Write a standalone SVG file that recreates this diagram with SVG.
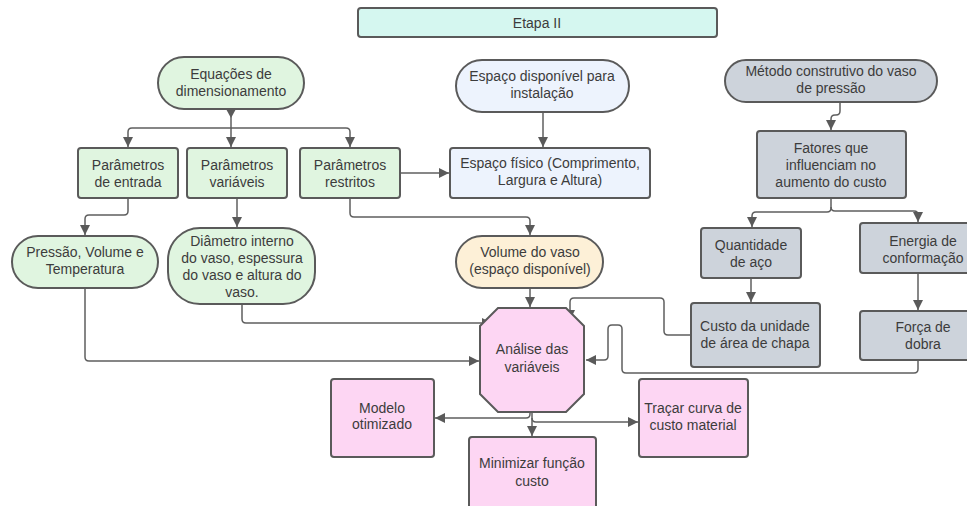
<svg xmlns="http://www.w3.org/2000/svg" width="967" height="506" viewBox="0 0 967 506">
<defs>
<marker id="ah" markerUnits="userSpaceOnUse" markerWidth="12" markerHeight="12" viewBox="0 0 12 12" refX="11" refY="6" orient="auto">
<path d="M1,1 L11,6 L1,11 Z" fill="#5a5a5a"/>
</marker>
<style>
.n{stroke:#5a5a5a;stroke-width:2}
.g{fill:#e0f5e0}.b{fill:#edf3fd}.gr{fill:#cdd3db}.o{fill:#fdf0d7}.p{fill:#fdd6f3}.m{fill:#d5f7f0}
text{font-family:"Liberation Sans",Arial,sans-serif;font-size:14px;fill:#3c3c3c;text-anchor:middle}
.c path{fill:none;stroke:#5f5f5f;stroke-width:1.5}
</style>
</defs>
<rect width="967" height="506" fill="#ffffff"/>

<g class="c" id="connectors">
<path d="M231,109 V128 H132 Q128,128 128,132 V147" marker-end="url(#ah)"/>
<path d="M231,128 V147" marker-end="url(#ah)"/>
<path d="M231,128 H346 Q350,128 350,132 V147" marker-end="url(#ah)"/>
<path d="M400,173 H449" marker-end="url(#ah)"/>
<path d="M543,112 V147" marker-end="url(#ah)"/>
<path d="M840,102 V111 Q840,115 836,115 H835 Q831,115 831,119 V130" marker-end="url(#ah)"/>
<path d="M831,198 V208 Q831,212 827,212 H756 Q752,212 752,216 V227" marker-end="url(#ah)"/>
<path d="M831,207 Q831,211 835,211 H914 Q918,211 918,215 V222" marker-end="url(#ah)"/>
<path d="M128,198 V211 Q128,215 124,215 H89 Q85,215 85,219 V235" marker-end="url(#ah)"/>
<path d="M237,198 V227" marker-end="url(#ah)"/>
<path d="M350,198 V213 Q350,217 354,217 H526 Q530,217 530,221 V235" marker-end="url(#ah)"/>
<path d="M530,288 V307" marker-end="url(#ah)"/>
<path d="M85,288 V357 Q85,361 89,361 H479" marker-end="url(#ah)"/>
<path d="M242,304 V319 Q242,323 246,323 H492" marker-end="url(#ah)"/>
<path d="M691,335 H668 Q664,335 664,331 V302 Q664,298 660,298 H574 Q570,298 570,302 V320" marker-end="url(#ah)"/>
<path d="M751,278 V302" marker-end="url(#ah)"/>
<path d="M918,273 V310" marker-end="url(#ah)"/>
<path d="M918,360 V369 Q918,373 914,373 H626 Q622,373 622,369 V329 Q622,325 618,325 H612 Q608,325 608,329 V356 Q608,360 604,360 H586" marker-end="url(#ah)"/>
<path d="M532,412 V436" marker-end="url(#ah)"/>
<path d="M530,412 V414 Q530,418 526,418 H435" marker-end="url(#ah)"/>
<path d="M532,418 Q532,422 536,422 H638" marker-end="url(#ah)"/>
</g>

<g id="etapa"><rect class="n m" x="358" y="8" width="359" height="29" rx="3"/><text x="537" y="28">Etapa II</text></g>

<g id="equacoes"><rect class="n g" x="158" y="57" width="146" height="52" rx="26"/><text x="231" y="79">Equações de</text><text x="231" y="96">dimensionamento</text></g>
<path d="M226,109 L236,109 L231,118 Z" fill="#5a5a5a"/>

<g id="entrada"><rect class="n g" x="78" y="148" width="100" height="50" rx="3"/><text x="128" y="170">Parâmetros</text><text x="128" y="187">de entrada</text></g>
<g id="variaveis"><rect class="n g" x="187" y="148" width="100" height="50" rx="3"/><text x="237" y="170">Parâmetros</text><text x="237" y="187">variáveis</text></g>
<g id="restritos"><rect class="n g" x="300" y="148" width="100" height="50" rx="3"/><text x="350" y="170">Parâmetros</text><text x="350" y="187">restritos</text></g>

<g id="espaco-fisico"><rect class="n b" x="450" y="148" width="200" height="50" rx="3"/><text x="550" y="168">Espaço físico (Comprimento,</text><text x="550" y="185">Largura e Altura)</text></g>
<g id="espaco-disp"><rect class="n b" x="456" y="60" width="173" height="52" rx="26"/><text x="542" y="81">Espaço disponível para</text><text x="542" y="98">instalação</text></g>

<g id="metodo"><rect class="n gr" x="725" y="60" width="212" height="42" rx="21"/><text x="831" y="76">Método construtivo do vaso</text><text x="831" y="93">de pressão</text></g>
<g id="fatores"><rect class="n gr" x="757" y="131" width="149" height="67" rx="3"/><text x="831" y="153">Fatores que</text><text x="831" y="170">influenciam no</text><text x="831" y="187">aumento do custo</text></g>
<g id="quantidade"><rect class="n gr" x="701" y="228" width="100" height="50" rx="3"/><text x="751" y="250">Quantidade</text><text x="751" y="267">de aço</text></g>
<g id="energia"><rect class="n gr" x="860" y="223" width="126" height="50" rx="3"/><text x="923" y="246">Energia de</text><text x="923" y="263">conformação</text></g>
<g id="custo"><rect class="n gr" x="691" y="303" width="129" height="64" rx="3"/><text x="755" y="331">Custo da unidade</text><text x="755" y="348">de área de chapa</text></g>
<g id="forca"><rect class="n gr" x="860" y="311" width="126" height="49" rx="3"/><text x="923" y="332">Força de</text><text x="923" y="349">dobra</text></g>

<g id="pressao"><rect class="n g" x="12" y="236" width="146" height="52" rx="26"/><text x="85" y="257">Pressão, Volume e</text><text x="85" y="274">Temperatura</text></g>
<g id="diametro"><rect class="n g" x="168" y="228" width="147" height="76" rx="32"/><text x="242" y="246">Diâmetro interno</text><text x="242" y="263">do vaso, espessura</text><text x="242" y="280">do vaso e altura do</text><text x="242" y="297">vaso.</text></g>
<g id="volume"><rect class="n o" x="456" y="236" width="147" height="52" rx="26"/><text x="530" y="257">Volume do vaso</text><text x="530" y="274">(espaço disponível)</text></g>

<g id="analise"><polygon class="n p" points="498,308 566,308 584,326 584,394 566,412 498,412 480,394 480,326"/><text x="532" y="354">Análise das</text><text x="532" y="372">variáveis</text></g>

<g id="modelo"><rect class="n p" x="331" y="379" width="103" height="78" rx="3"/><text x="382" y="413">Modelo</text><text x="382" y="429">otimizado</text></g>
<g id="tracar"><rect class="n p" x="639" y="379" width="109" height="78" rx="3"/><text x="693" y="413">Traçar curva de</text><text x="693" y="430">custo material</text></g>
<g id="minimizar"><rect class="n p" x="469" y="437" width="127" height="80" rx="3"/><text x="532" y="468">Minimizar função</text><text x="532" y="486">custo</text></g>
</svg>
